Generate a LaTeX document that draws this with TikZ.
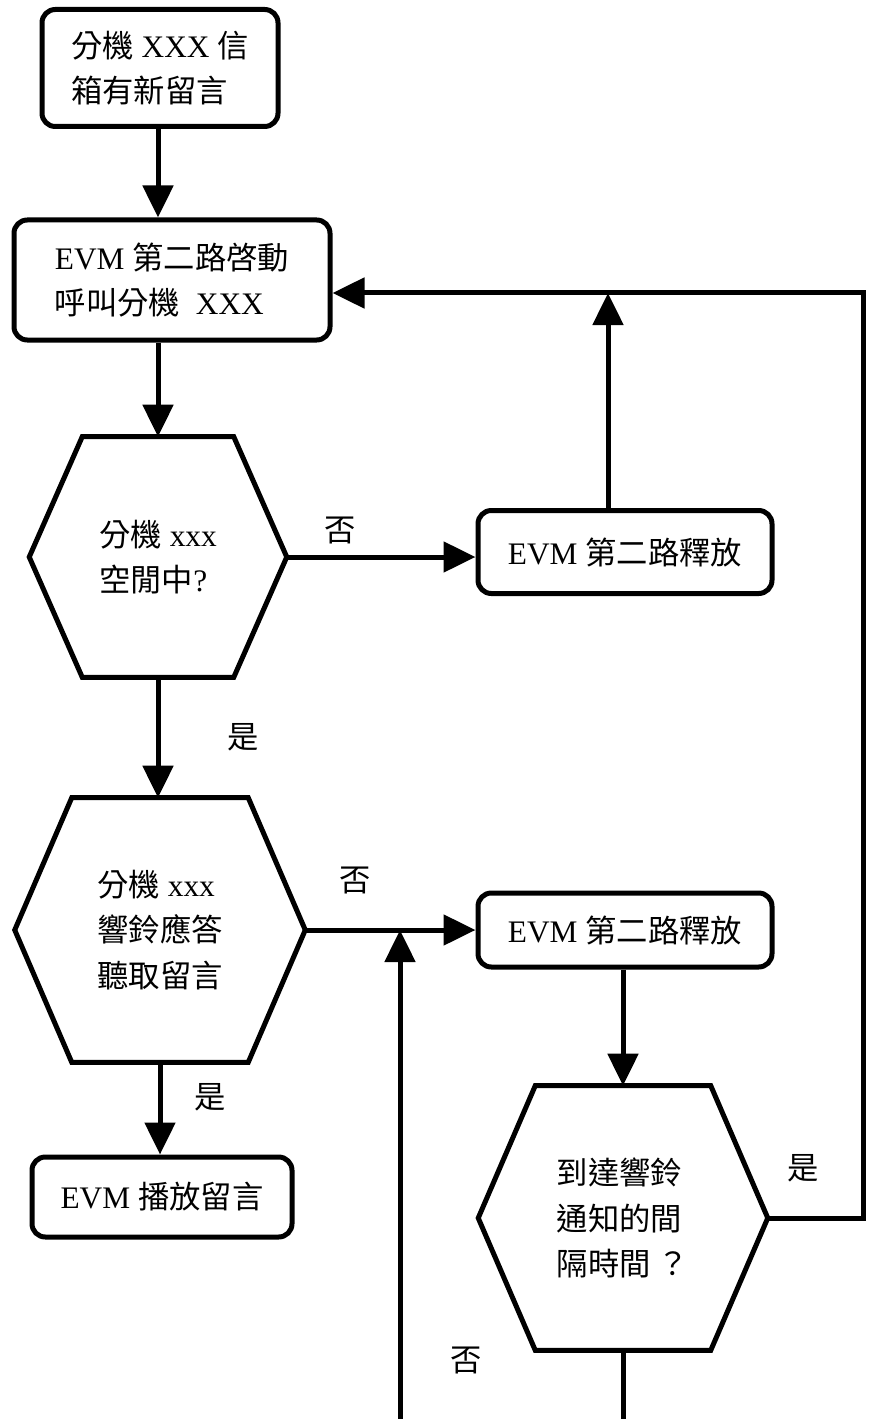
\documentclass[tikz,border=0pt]{standalone}
\usepackage{fontspec}
\setmainfont{Liberation Serif}
\newfontfamily\cjkfont{Noto Sans CJK TC}
\newcommand{\zh}[1]{{\cjkfont #1}}
\usetikzlibrary{arrows.meta,calc}

\begin{document}
\begin{tikzpicture}
        [x=0.75pt,y=-0.75pt,
         every node/.style={font=\fontsize{23.5}{34}\selectfont},
         box/.style={draw,rounded corners=10pt,line width=3.75pt,align=left,inner sep=0},
         hexa/.style={align=left,inner sep=0},
         line/.style={line width=3.75pt},
         arr/.style={line width=3.75pt,-{Triangle[width=22.5pt,length=24pt]}}]

        \path[fill=white,use as bounding box] (0,0) rectangle (872,1419);

        \node[box,minimum width=177pt,minimum height=87.75pt] (b1) at (160,68) {\zh{分機} XXX \zh{信}\\\zh{箱有新留言}};
        \node[box,minimum width=237pt,minimum height=90pt] (b2) at (172,280) {EVM \zh{第二路啓動}\\\zh{呼叫分機}~~XXX};
        \node[hexa,minimum width=192.75pt,minimum height=180pt] (q1) at (158,557) {\zh{分機} xxx\\\zh{空閒中}?};
        \node[box,minimum width=220.5pt,minimum height=62.25pt] (r1) at (625,552) {EVM \zh{第二路釋放}};
        \node[hexa,minimum width=217.5pt,minimum height=198pt] (q2) at (160,930) {\zh{分機} xxx\\\zh{響鈴應答}\\\zh{聽取留言}};
        \node[box,minimum width=220.5pt,minimum height=55.5pt] (r2) at (625,930) {EVM \zh{第二路釋放}};
        \node[box,minimum width=195pt,minimum height=60pt] (p1) at (162,1197) {EVM \zh{播放留言}};
        \node[hexa,minimum width=216.75pt,minimum height=198pt] (q3) at (623,1218) {\zh{到達響鈴}\\\zh{通知的間}\\\zh{隔時間 ？}};

        \foreach \h/\c in {q1/53,q2/57,q3/57}
          \draw[line] ($(\h.north west)+(\c,0)$) -- ($(\h.north east)+(-\c,0)$) -- (\h.east)
            -- ($(\h.south east)+(-\c,0)$) -- ($(\h.south west)+(\c,0)$) -- (\h.west) -- cycle;

        \node (n1) at (340,530) {\zh{否}};
        \node (y1) at (243,737) {\zh{是}};
        \node (n2) at (355,880) {\zh{否}};
        \node (y2) at (210,1097) {\zh{是}};
        \node (y3) at (803,1168) {\zh{是}};
        \node (n3) at (466,1360) {\zh{否}};

        \coordinate (t1) at (863,293);
        \coordinate (m1) at (608,293);
        \coordinate (j1) at (400,930);
        \coordinate (c1) at (623,1440);
        \coordinate (c2) at (400,1440);

        \draw[arr] (b1.south -| q1.north) -- (b2.north -| q1.north);
        \draw[arr] (b2.south -| q1.north) -- (q1.north);
        \draw[arr] (q1.east) -- (r1.west |- q1.east);
        \draw[arr] (q1.south) -- (q1.south |- q2.north);
        \draw[arr] (r1.north -| m1) -- (m1);
        \draw[arr] (q3.east) -| (t1) -- (b2.east |- t1);
        \draw[arr] (q2.east) -- (r2.west |- q2.east);
        \draw[arr] (q2.south) -- (q2.south |- p1.north);
        \draw[arr] (r2.south -| q3.north) -- (q3.north);
        \draw[arr] (q3.south) -- (c1) -- (c2) -- (j1);

      \end{tikzpicture}
\end{document}
